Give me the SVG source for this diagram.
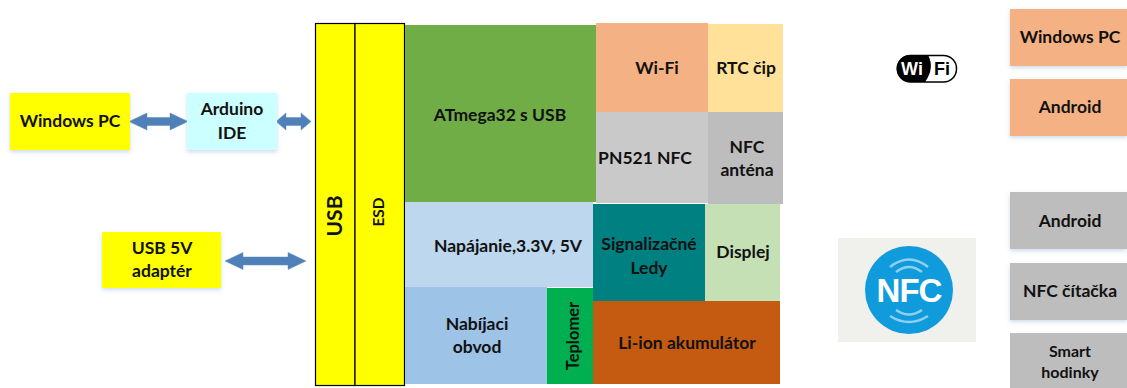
<svg xmlns="http://www.w3.org/2000/svg" width="1127" height="388" viewBox="0 0 1127 388">
<defs>
<filter id="sh" x="-10%" y="-10%" width="120%" height="125%"><feDropShadow dx="0" dy="2" stdDeviation="2" flood-color="#9db8d8" flood-opacity="0.5"/></filter>
</defs>
<style>
text{font-family:Lato,"Open Sans","Liberation Sans",sans-serif;font-weight:700;font-size:17.500px;fill:#111;text-anchor:middle}
.s{filter:url(#sh)}
.y{fill:#ffff00}
.o{fill:#f4b183}
.g{fill:#bdbdbd}
.ar{fill:#4f81b8;stroke:#5b8dc0;stroke-width:.5}
.b{stroke:#000;stroke-width:1.200;fill:#ffff00}
.lg{font-family:"Liberation Sans",sans-serif;font-size:18px}
</style>
<rect width="1127" height="388" fill="#fff"/>
<g id="connectors">
<path class="ar" d="M129 121.500L147 113V117.500H170V113L188 121.500L170 130V125.500H147V130Z"/>
<path class="ar" d="M276 121.500L286 113V117.500H301V113L311 121.500L301 130V125.500H286V130Z"/>
<path class="ar" d="M225 261L243 252.500V257H288V252.500L306 261L288 269.500V265H243V269.500Z"/>
</g>
<g id="win-pc"><rect class="y s" x="10" y="93" width="120" height="57"/><text x="70" y="127">Windows PC</text></g>
<g id="arduino"><rect class="s" fill="#ccffff" x="187" y="93" width="90" height="57"/><text x="232" y="115">Arduino</text><text x="232" y="139">IDE</text></g>
<g id="adapter"><rect class="y s" x="102" y="232" width="119" height="56"/><text x="162" y="254">USB 5V</text><text x="162" y="277">adaptér</text></g>
<g id="usb"><rect class="b" x="315.500" y="23.500" width="39.500" height="362"/><text transform="translate(342 216) rotate(-90)" style="font-size:21px">USB</text></g>
<g id="esd"><rect class="b" x="355" y="23.500" width="49.500" height="362"/><text transform="translate(384 212) rotate(-90)" style="font-size:15.500px">ESD</text></g>
<g id="atmega"><rect fill="#70ad47" x="405" y="25" width="191" height="177"/><text x="500" y="121">ATmega32 s USB</text></g>
<g id="wifi"><rect class="o" x="596" y="23" width="112" height="89"/><text x="657" y="74">Wi-Fi</text></g>
<g id="rtc"><rect fill="#ffe199" x="708" y="24" width="75" height="88"/><text x="746" y="74">RTC čip</text></g>
<g id="pn521"><rect fill="#c9c9c9" x="596" y="112" width="112" height="91"/><text x="645" y="164">PN521 NFC</text></g>
<g id="antena"><rect class="g" x="708" y="112" width="75" height="92"/><text x="747" y="153">NFC</text><text x="747" y="176">anténa</text></g>
<g id="napajanie"><rect fill="#bdd7ee" x="405" y="202" width="188" height="85"/><text x="508" y="252">Napájanie,3.3V, 5V</text></g>
<g id="led"><rect fill="#008080" x="593" y="204" width="112" height="97"/><text x="649" y="250">Signalizačné</text><text x="649" y="274">Ledy</text></g>
<g id="displej"><rect fill="#c5e0b4" x="705" y="204" width="75" height="97"/><text x="743" y="258">Displej</text></g>
<g id="nabijaci"><rect fill="#9dc3e6" x="405" y="287" width="142" height="97"/><text x="477" y="330">Nabíjaci</text><text x="477" y="353">obvod</text></g>
<g id="teplomer"><rect fill="#00b050" x="547" y="288" width="46" height="96"/><text transform="translate(579 336) rotate(-90)" style="font-size:16.500px">Teplomer</text></g>
<g id="liion"><rect fill="#c55a11" x="593" y="301" width="187" height="83"/><text x="687" y="349">Li-ion akumulátor</text></g>
<g id="wifi-logo"><rect x="897.500" y="55.500" width="59" height="26.500" rx="13" fill="#fff" stroke="#000" stroke-width="1.500"/><path d="M928 55Q935 68 925 82H910A13.500 13.500 0 0 1 910 55Z" fill="#000"/><text class="lg" x="912" y="75" style="fill:#fff">Wi</text><text class="lg" x="942" y="75" style="fill:#000">Fi</text></g>
<g id="nfc-logo"><rect fill="#f0f0ec" x="838" y="238" width="138" height="104"/><circle cx="909" cy="290" r="44" fill="#0f9bdc"/>
<g fill="none" stroke="#8fd0f0" stroke-width="2.500"><path d="M890 267Q909 252 928 267"/><path d="M896 272Q909 262 922 272"/><path d="M896 310Q909 319 922 310"/><path d="M890 316Q909 328 928 316"/></g>
<text x="909" y="302" style="font-size:33px;fill:#fff;font-family:'Liberation Sans',sans-serif;letter-spacing:-1px">NFC</text></g>
<g id="r-win"><rect class="o s" x="1010" y="9" width="117" height="57"/><text x="1070" y="43">Windows PC</text></g>
<g id="r-android1"><rect class="o s" x="1010" y="79" width="117" height="57"/><text x="1070" y="113">Android</text></g>
<g id="r-android2"><rect class="g s" x="1010" y="192" width="117" height="57"/><text x="1070" y="227">Android</text></g>
<g id="r-reader"><rect class="g s" x="1010" y="263" width="117" height="57"/><text x="1070" y="297">NFC čítačka</text></g>
<g id="r-watch"><rect class="g" x="1010" y="333" width="117" height="55"/><text x="1070" y="357" style="font-size:16px">Smart</text><text x="1070" y="378" style="font-size:16px">hodinky</text></g>
</svg>
